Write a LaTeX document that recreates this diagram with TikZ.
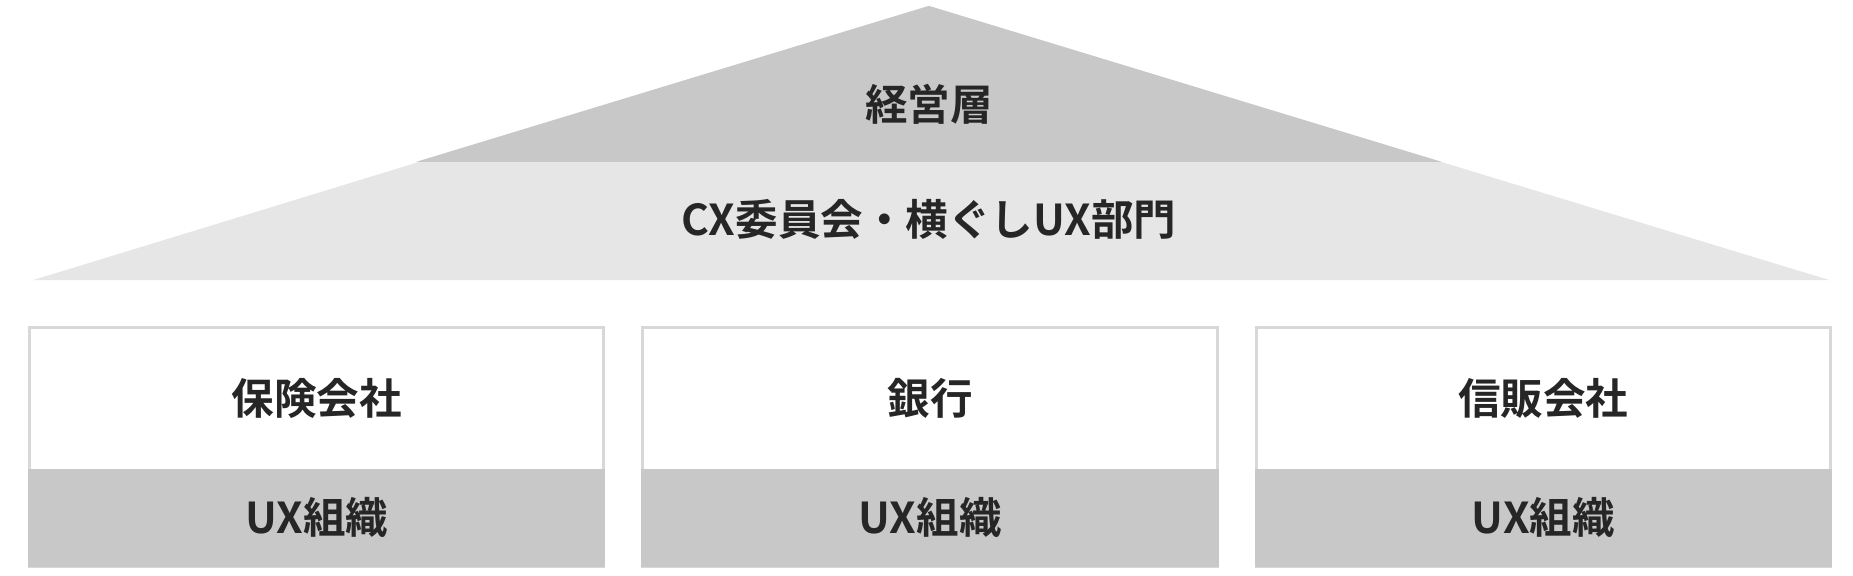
\documentclass[tikz,border=0pt]{standalone}
\usepackage{fontspec}
\newfontfamily\cjk{Noto Sans CJK JP}[BoldFont={Noto Sans CJK JP Bold}]
\definecolor{dk}{HTML}{C8C8C8}
\definecolor{lt}{HTML}{E6E6E6}
\definecolor{bd}{HTML}{D8D8D8}
\begin{document}
\begin{tikzpicture}[x=1pt,y=-1pt,
  lbl/.style={font=\cjk\bfseries\fontsize{36}{42}\selectfont, text=black!85},
  box/.style={draw=bd, line width=2.5pt, fill=white},
  bot/.style={fill=dk}]
\useasboundingbox (0,0) rectangle (1568,487.4);
\fill[lt] (28,237) -- (786,5) -- (1548,237) -- cycle;
\fill[dk] (352,137) -- (786,5) -- (1220,137) -- cycle;
\node[lbl] (top) at (786,88) {経営層};
\node[lbl] (mid) at (786,186) {CX委員会・横ぐしUX部門};
\foreach \i/\a/\b/\t in {1/25/511/保険会社, 2/544/1030/銀行, 3/1063/1549/信販会社}{
  \draw[box] (\a,277) rectangle (\b,479);
  \fill[bot] (\a-1.2,397) rectangle (\b+1.2,480.2);
  \node[lbl] (c\i) at ({(\a+\b)/2},337) {\t};
  \node[lbl] (u\i) at ({(\a+\b)/2},438) {UX組織};
}
\end{tikzpicture}
\end{document}
